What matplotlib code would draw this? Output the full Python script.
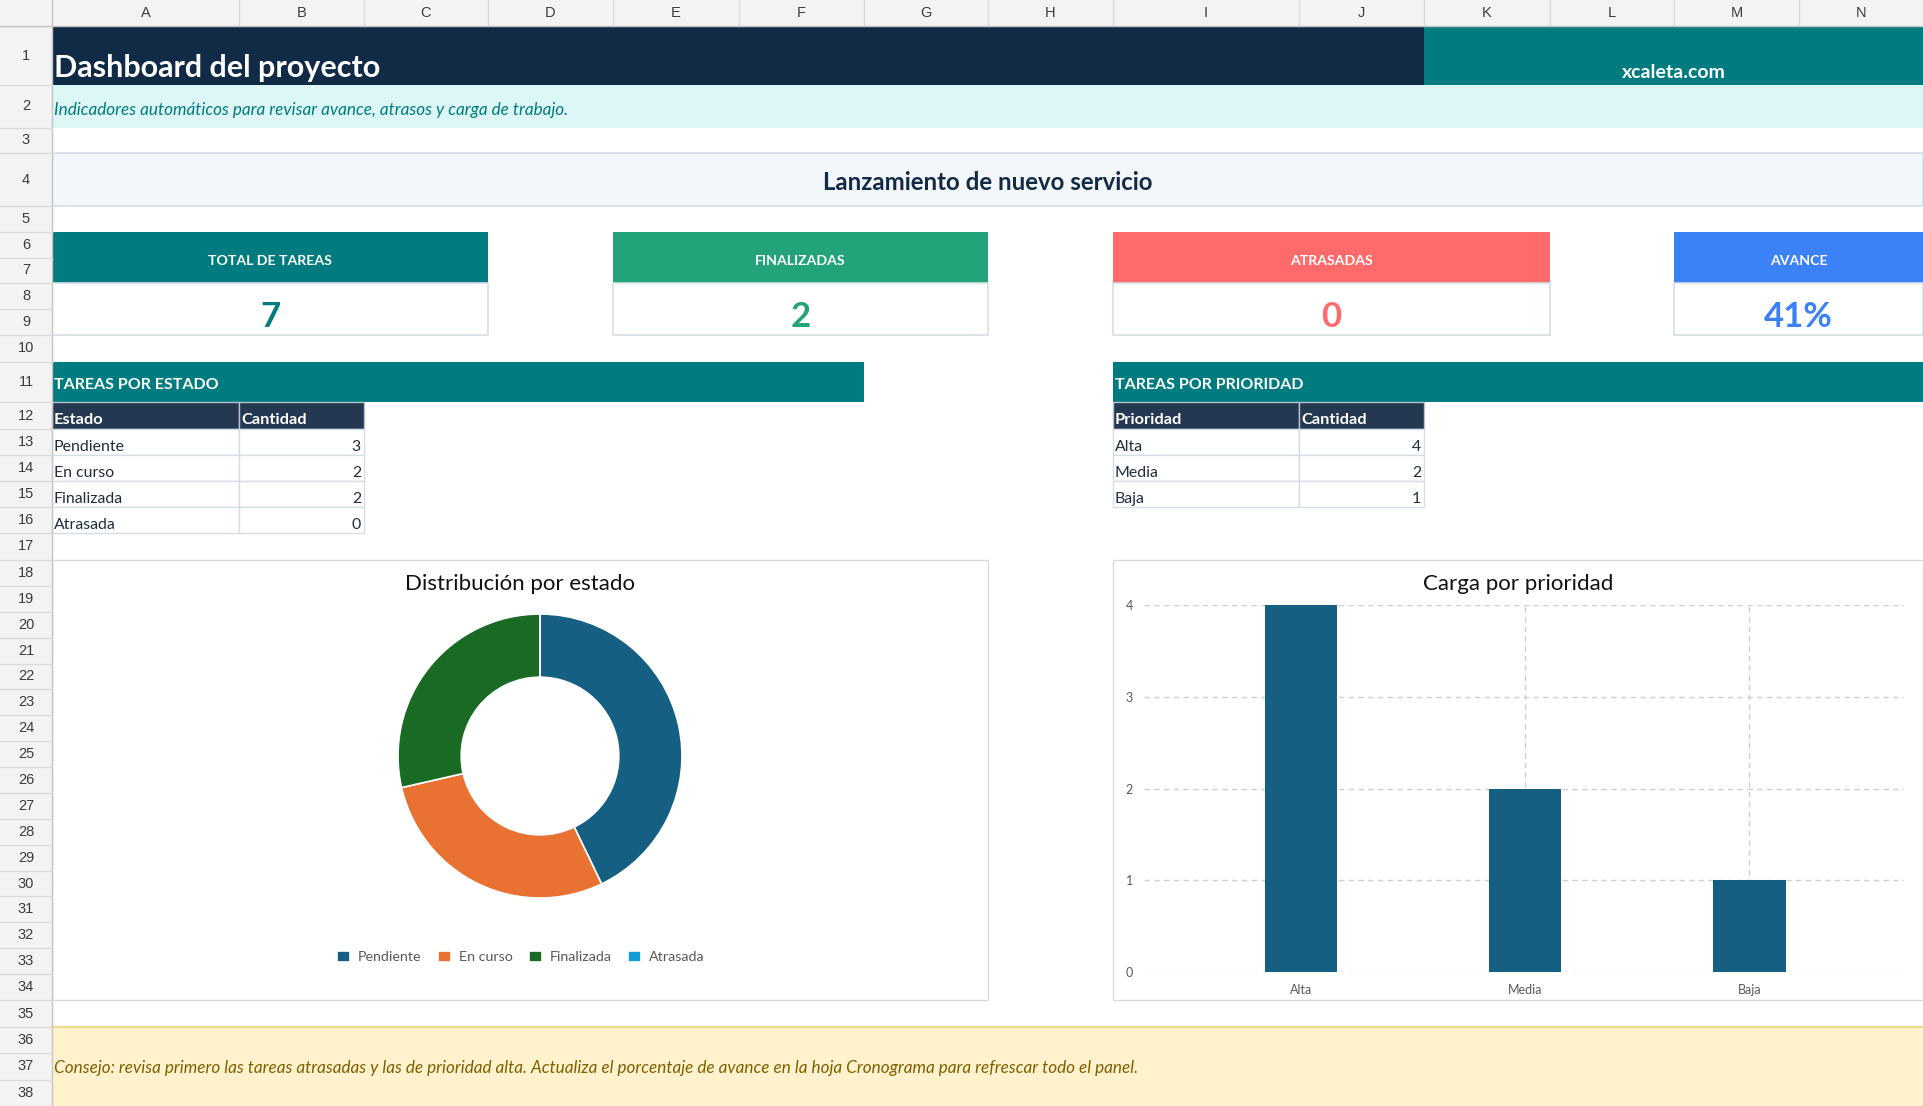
import matplotlib
matplotlib.use("Agg")
import matplotlib.pyplot as plt
from matplotlib.patches import Rectangle
import numpy as np

# ---------------- data ----------------
col_letters = list("ABCDEFGHIJKLMN")
n_rows = 38
title_text = "Dashboard del proyecto"
brand_text = "xcaleta.com"
subtitle_text = "Indicadores automáticos para revisar avance, atrasos y carga de trabajo."
project_name = "Lanzamiento de nuevo servicio"
kpi_labels = ["TOTAL DE TAREAS", "FINALIZADAS", "ATRASADAS", "AVANCE"]
kpi_values = ["7", "2", "0", "41%"]
kpi_colors = ["#007C80", "#22A37A", "#FF6B6B", "#3B82F6"]
section_titles = ["TAREAS POR ESTADO", "TAREAS POR PRIORIDAD"]
estado_header = ["Estado", "Cantidad"]
estado_labels = ["Pendiente", "En curso", "Finalizada", "Atrasada"]
estado_counts = [3, 2, 2, 0]
prioridad_header = ["Prioridad", "Cantidad"]
prioridad_labels = ["Alta", "Media", "Baja"]
prioridad_counts = [4, 2, 1]
donut_title = "Distribución por estado"
bar_title = "Carga por prioridad"
donut_colors = ["#156082", "#E97132", "#196B24", "#0F9ED5"]
bar_color = "#156082"
yticks_bar = [0, 1, 2, 3, 4]
footer_text = ("Consejo: revisa primero las tareas atrasadas y las de prioridad alta. "
               "Actualiza el porcentaje de avance en la hoja Cronograma para refrescar todo el panel.")

# ---------------- layout (pixels) ----------------
W, H = 1924, 1106
FONT = "Lato"
CHROME = "Liberation Sans"
col_edges = [52, 239, 364, 488, 613, 739, 864, 988, 1113, 1299, 1424, 1550, 1674, 1799, 1924]
row_edges = [26, 85, 128, 153, 206, 232, 258, 283, 309, 335, 362, 402, 429, 455, 481, 507, 533, 560]
row_edges += list(np.linspace(560, 1000, 18)[1:])
row_edges += [1027, 1053, 1080, 1106]

fig = plt.figure(figsize=(W / 100, H / 100), dpi=100)
bg = fig.add_axes([0, 0, 1, 1])
bg.set_xlim(0, W)
bg.set_ylim(H, 0)
bg.axis("off")


def rect(x0, y0, x1, y1, fc="none", ec="none", lw=0.0, z=1):
    bg.add_patch(Rectangle((x0, y0), x1 - x0, y1 - y0, facecolor=fc,
                           edgecolor=ec, linewidth=lw, zorder=z))


def txt(x, y, s, size, color, ha="left", weight="normal", style="normal", family=FONT, z=5):
    bg.text(x, y, s, fontsize=size, color=color, ha=ha, va="center",
            fontweight=weight, fontstyle=style, family=family, zorder=z)


def C(i):  # column left edge by index
    return col_edges[i]


def R(r):  # top edge of row r (1-based)
    return row_edges[r - 1]


# ---------------- spreadsheet chrome ----------------
rect(0, 0, W, 26, fc="#F3F3F3", z=2)
rect(0, 0, 52, H, fc="#F3F3F3", z=2)
for i, letter in enumerate(col_letters):
    x0, x1 = col_edges[i], col_edges[i + 1]
    bg.plot([x1, x1], [0, 26], color="#DADADA", lw=1, zorder=3)
    txt((x0 + x1) / 2, 13, letter, 10.5, "#3C3C3C", ha="center", family=CHROME, z=4)
bg.plot([0, W], [26, 26], color="#C4C4C4", lw=1, zorder=3)
bg.plot([52, 52], [0, H], color="#C4C4C4", lw=1, zorder=3)
for r in range(1, n_rows + 1):
    y0, y1 = row_edges[r - 1], row_edges[r]
    bg.plot([0, 52], [y1, y1], color="#DADADA", lw=1, zorder=3)
    txt(26, (y0 + y1) / 2, str(r), 10.5, "#3C3C3C", ha="center", family=CHROME, z=4)

# ---------------- banner ----------------
rect(C(0), R(1), C(10), R(2), fc="#112A46")
rect(C(10), R(1), W, R(2), fc="#007C80")
txt(C(0) + 2, 68, title_text, 22, "white", weight="bold")
txt((C(10) + W) / 2, 73, brand_text, 14, "white", ha="center", weight="bold")
rect(C(0), R(2), W, R(3), fc="#DDF6F6")
txt(C(0) + 2, 110, subtitle_text, 12.3, "#007C80", style="italic")
rect(C(0), R(4), W - 1, R(5), fc="#F3F7FA", ec="#D5DEE8", lw=1.2)
txt((C(0) + W) / 2, 183, project_name, 17.3, "#112A46", ha="center", weight="bold")

# ---------------- KPI cards ----------------
kpi_spans = [(0, 3), (4, 7), (8, 11), (12, 14)]
for (a, b), lab, val, col in zip(kpi_spans, kpi_labels, kpi_values, kpi_colors):
    x0, x1 = C(a), (col_edges[b] if b < len(col_edges) else W)
    x1 = min(x1, W - 1)
    rect(x0, R(6), x1, R(8), fc=col)
    rect(x0, R(8), x1, R(10), fc="white", ec="#D5DEE8", lw=1.2)
    txt((x0 + x1) / 2, 261, lab, 10.2, "white", ha="center", weight="bold")
    txt((x0 + x1) / 2, 317, val, 25, col, ha="center", weight="bold")

# ---------------- section headers ----------------
rect(C(0), R(11), C(6), R(12), fc="#007C80")
rect(C(8), R(11), W, R(12), fc="#007C80")
txt(C(0) + 2, 385, section_titles[0], 11.5, "white", weight="bold")
txt(C(8) + 2, 385, section_titles[1], 11.5, "white", weight="bold")


def table(cx, header, labels, counts):
    xa, xb, xc = col_edges[cx], col_edges[cx + 1], col_edges[cx + 2]
    rect(xa, R(12), xb, R(13), fc="#253852", ec="#B8C2CF", lw=1, z=2)
    rect(xb, R(12), xc, R(13), fc="#253852", ec="#B8C2CF", lw=1, z=2)
    txt(xa + 2, R(13) - 9, header[0], 11.8, "white", weight="bold")
    txt(xb + 2, R(13) - 9, header[1], 11.8, "white", weight="bold")
    for k, (lab, cnt) in enumerate(zip(labels, counts)):
        r = 13 + k
        rect(xa, R(r), xb, R(r + 1), fc="white", ec="#D5DEE8", lw=1, z=2)
        rect(xb, R(r), xc, R(r + 1), fc="white", ec="#D5DEE8", lw=1, z=2)
        txt(xa + 2, R(r + 1) - 8, lab, 11.4, "#1F2D3D")
        txt(xc - 3, R(r + 1) - 8, str(cnt), 11.4, "#1F2D3D", ha="right")


table(0, estado_header, estado_labels, estado_counts)
table(8, prioridad_header, prioridad_labels, prioridad_counts)

# ---------------- chart frames ----------------
rect(C(0), 560, C(7), 1000, fc="white", ec="#D9D9D9", lw=1)
rect(C(8), 560, W - 1, 1000, fc="white", ec="#D9D9D9", lw=1)
txt((C(0) + C(7)) / 2, 584, donut_title, 16, "#111111", ha="center")
txt((C(8) + W) / 2, 584, bar_title, 16, "#111111", ha="center")


def fig_rect(x0, y0, x1, y1):
    return [x0 / W, 1 - y1 / H, (x1 - x0) / W, (y1 - y0) / H]


# donut
cx, cy, Rad = 540, 756, 142
ax_d = fig.add_axes(fig_rect(cx - Rad, cy - Rad, cx + Rad, cy + Rad))
wedges, _ = ax_d.pie(estado_counts, colors=donut_colors, startangle=90, counterclock=False,
                     radius=1.0, wedgeprops=dict(width=0.445, edgecolor="white", linewidth=1.2))
ax_d.set_xlim(-1, 1)
ax_d.set_ylim(-1, 1)
ax_d.set_aspect("auto")
ax_d.axis("off")
leg = fig.legend(wedges, estado_labels, loc="center", bbox_to_anchor=(521 / W, 1 - 957 / H),
                 ncol=4, frameon=False, handlelength=0.9, handleheight=0.9,
                 handletextpad=0.55, columnspacing=1.15, prop={"family": FONT, "size": 10.3})
for t in leg.get_texts():
    t.set_color("#595959")

# bars
ax_b = fig.add_axes(fig_rect(1144, 605, 1904, 972))
xpos = np.arange(len(prioridad_labels))
ax_b.bar(xpos, prioridad_counts, width=0.323, color=bar_color, zorder=3)
ax_b.set_xlim(-0.70, 2.69)
ax_b.set_ylim(0, 4)
ax_b.set_yticks(yticks_bar)
ax_b.set_xticks(xpos)
ax_b.set_xticklabels(prioridad_labels)
ax_b.grid(True, color="#CFCFCF", linestyle=(0, (4, 3)), linewidth=1, zorder=0)
ax_b.set_axisbelow(True)
for s in ax_b.spines.values():
    s.set_visible(False)
ax_b.tick_params(length=0, labelsize=9, labelcolor="#595959", pad=8)
ax_b.tick_params(axis="x", pad=9)
for lab in ax_b.get_xticklabels() + ax_b.get_yticklabels():
    lab.set_family(FONT)
ax_b.patch.set_alpha(0)

# ---------------- footer ----------------
rect(C(0), R(36), W, H, fc="#FFF2CC", z=1)
bg.plot([C(0), W], [R(36), R(36)], color="#F2D98C", lw=1.5, zorder=2)
txt(C(0) + 2, 1068, footer_text, 12.3, "#7F6000", style="italic")

fig.savefig("out.png", dpi=100)
